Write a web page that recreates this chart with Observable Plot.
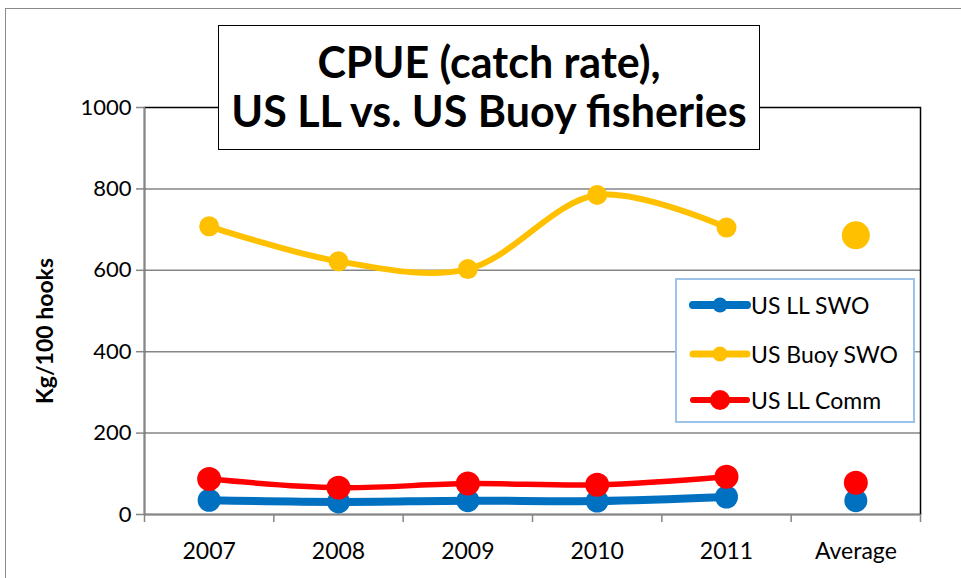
<!DOCTYPE html>
<html>
<head>
<meta charset="utf-8">
<script src="https://cdn.jsdelivr.net/npm/d3@7"></script>
<script src="https://cdn.jsdelivr.net/npm/@observablehq/plot@0.6"></script>
<style>
  html, body { margin: 0; padding: 0; background: #fff; overflow: hidden; }
  #wrap { position: relative; width: 961px; height: 578px; overflow: hidden; font-family: Lato, "Open Sans", sans-serif; }
  #outer { position: absolute; left: 5px; top: 8px; width: 1000px; height: 700px; border-left: 1.5px solid #8a8a8a; border-top: 1.5px solid #8a8a8a; }
  #chart { position: absolute; left: 0; top: 0; }
  #title { position: absolute; left: 218px; top: 25px; width: 542px; height: 125px; box-sizing: border-box; border: 1.5px solid #000; background: #fff;
           font-weight: bold; font-size: 43px; line-height: 49px; text-align: center; padding-top: 11px; color: #000; letter-spacing: 0px; white-space: nowrap; }
  #legend { position: absolute; left: 675px; top: 278px; width: 240px; height: 145px; box-sizing: border-box; border: 2px solid #9dc3ea; background: #fff; }
  .item { position: absolute; left: 12px; height: 30px; display: flex; align-items: center; font-size: 23px; color: #000; }
  .item svg { margin-right: 0px; }
</style>
</head>
<body>
<div id="wrap">
  <div id="outer"></div>
  <div id="chart"></div>
  <div id="title">CPUE (catch rate),<br>US LL vs. US Buoy fisheries</div>
  <div id="legend"></div>
</div>
<script>
const categories = ["2007", "2008", "2009", "2010", "2011", "Average"];
const yTicks = [0, 200, 400, 600, 800, 1000];
const seriesNames = ["US LL SWO", "US Buoy SWO", "US LL Comm"];
const llSwo   = [35, 31, 34, 33, 43, 34];
const buoySwo = [708, 622, 603, 785, 705, 686];
const llComm  = [87, 66, 76, 73, 93, 78];
const colors = ["#0070C0", "#FFC000", "#FF0000"];

const seriesValues = [llSwo, buoySwo, llComm];
const lineWidths = [8, 6, 5.5];
const dotR = [11.5, 10, 12];
const avgR = [11.5, 14, 12];
const avgIdx = categories.length - 1;

const lineRows = [];
const dotRows = [];
seriesValues.forEach((vals, s) => {
  vals.forEach((v, i) => {
    const row = {s, i, v};
    if (i < avgIdx) lineRows.push(row);
    dotRows.push({...row, r: i === avgIdx ? avgR[s] : dotR[s]});
  });
});

const boundaries = d3.range(categories.length + 1).map(i => i - 0.5);

const marks = [
  Plot.gridY(yTicks.slice(1, -1), {stroke: "#868686", strokeOpacity: 1, strokeWidth: 1.5}),
  Plot.frame({stroke: "#000", strokeWidth: 1.5}),
  Plot.ruleY([0], {stroke: "#868686", strokeWidth: 1.5}),
  Plot.ruleX([boundaries[0]], {stroke: "#868686", strokeWidth: 1.5}),
  Plot.axisY(yTicks, {tickSize: 8, tickPadding: 5, fontSize: 22, stroke: "#868686", strokeWidth: 1.5, fill: "#000", label: null, tickFormat: d => String(d)}),
  Plot.axisX(boundaries, {tickSize: 8, tickFormat: () => "", stroke: "#868686", strokeWidth: 1.5, label: null}),
  Plot.axisX(d3.range(categories.length), {tickSize: 0, tickPadding: 28, fontSize: 23, fill: "#000", tickFormat: i => categories[i], label: null})
];
seriesValues.forEach((_, s) => {
  marks.push(Plot.line(lineRows.filter(d => d.s === s), {x: "i", y: "v", stroke: colors[s], strokeWidth: lineWidths[s], curve: "catmull-rom"}));
});
seriesValues.forEach((_, s) => {
  marks.push(Plot.dot(dotRows.filter(d => d.s === s), {x: "i", y: "v", r: "r", fill: colors[s], stroke: "none"}));
});
marks.push(Plot.text(["Kg/100 hooks"], {frameAnchor: "left", textAnchor: "middle", dx: -99, dy: 20, rotate: -90, fontSize: 23, fontWeight: "bold", fill: "#000"}));

const chart = Plot.plot({
  width: 961,
  height: 578,
  marginLeft: 144,
  marginRight: 41,
  marginTop: 107,
  marginBottom: 64,
  style: {background: "transparent", fontFamily: "Lato, 'Open Sans', sans-serif", overflow: "visible"},
  x: {type: "linear", domain: [boundaries[0], boundaries[boundaries.length - 1]], axis: null},
  y: {domain: [0, 1000], axis: null},
  r: {type: "identity"},
  marks
});
document.getElementById("chart").appendChild(chart);

// legend
const legend = document.getElementById("legend");
const legR = [7.5, 7.5, 10];
const legW = [8, 7, 6];
const legTop = [10, 59, 105];
seriesNames.forEach((name, s) => {
  const div = document.createElement("div");
  div.className = "item";
  div.style.top = legTop[s] + "px";
  const svg = d3.create("svg").attr("width", 62).attr("height", 30);
  svg.append("line").attr("x1", 4).attr("x2", 58).attr("y1", 15).attr("y2", 15)
     .attr("stroke", colors[s]).attr("stroke-width", legW[s]).attr("stroke-linecap", "round");
  svg.append("circle").attr("cx", 31).attr("cy", 15).attr("r", legR[s]).attr("fill", colors[s]);
  div.appendChild(svg.node());
  const span = document.createElement("span");
  span.textContent = name;
  div.appendChild(span);
  legend.appendChild(div);
});
</script>
</body>
</html>
